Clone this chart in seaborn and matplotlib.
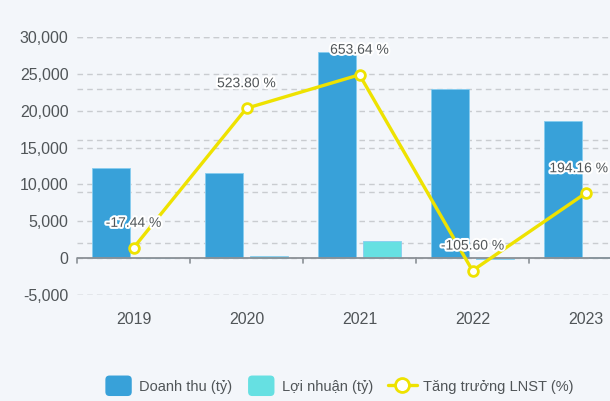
import numpy as np
import pandas as pd
import matplotlib
matplotlib.use("Agg")
import matplotlib.pyplot as plt
import matplotlib.patheffects as pe
from matplotlib.patches import FancyBboxPatch, Patch
from matplotlib.legend_handler import HandlerPatch
from matplotlib.lines import Line2D
from matplotlib.ticker import FuncFormatter
import seaborn as sns

# ── data ────────────────────────────────────────────────────────────
years = ["2019", "2020", "2021", "2022", "2023"]
doanh_thu = [12200, 11500, 28000, 22950, 18600]
loi_nhuan = [50, 310, 2350, -130, 120]
tang_truong = [-17.44, 523.80, 653.64, -105.60, 194.16]

S_REV = "Doanh thu (tỷ)"
S_PROFIT = "Lợi nhuận (tỷ)"
S_GROWTH = "Tăng trưởng LNST (%)"

BG = "#f3f6fa"
BLUE = "#38a1d9"
CYAN = "#66e0e2"
YELLOW = "#eee200"
GRID = "#c9ccd0"
TXT = "#505558"

Y1 = (-5000, 30000)
Y2 = (-200, 800)

sns.set_theme(style="white")
plt.rcParams["font.family"] = ["Liberation Sans Narrow", "Liberation Sans", "DejaVu Sans"]

df = pd.DataFrame({
    "year": years * 2,
    "value": doanh_thu + loi_nhuan,
    "series": [S_REV] * len(years) + [S_PROFIT] * len(years),
})

fig = plt.figure(figsize=(6.10, 4.01), dpi=100, facecolor=BG)
ax = fig.add_axes([77 / 610, 1 - 295 / 401, 565 / 610, 258 / 401])
ax.set_facecolor(BG)

sns.barplot(data=df, x="year", y="value", hue="series", order=years,
            palette=[BLUE, CYAN], saturation=1, gap=0.15, ax=ax,
            legend=False, edgecolor="#86cdf0", linewidth=0.6, zorder=3)

ax.set_ylim(*Y1)
ax.set_xlim(-0.5, len(years) - 0.5)
ax.set_yticks(np.arange(-5000, 30001, 5000))
ax.yaxis.set_major_formatter(FuncFormatter(lambda v, _: f"{int(v):,}"))
ax.grid(axis="y", color=GRID, linestyle=(0, (4, 3)), linewidth=1, zorder=0)
ax.set_axisbelow(True)
# secondary-axis grid, drawn on the primary axes so bars cover it
for g in np.arange(Y2[0], Y2[1] + 1, 200):
    yy = Y1[0] + (g - Y2[0]) / (Y2[1] - Y2[0]) * (Y1[1] - Y1[0])
    ax.axhline(yy, color=GRID, linestyle=(0, (4, 3)), linewidth=1, zorder=0)
for s in ax.spines.values():
    s.set_visible(False)
ax.axhline(0, color="#8a9096", linewidth=1.3, zorder=4)

ax.tick_params(axis="y", length=0, labelsize=11.5, labelcolor=TXT, pad=6)
ax.tick_params(axis="x", which="major", length=0, labelsize=11.5,
               labelcolor=TXT, pad=12)
ax.set_xlabel("")
ax.set_ylabel("")
# category boundary ticks hanging from the zero line
for xb in np.arange(-0.5, len(years), 1.0):
    ax.plot([xb, xb], [0, -650], color="#8a9096", lw=1.2, zorder=4,
            clip_on=False)

# ── secondary axis: growth line ─────────────────────────────────────
ax2 = ax.twinx()
ax2.set_ylim(*Y2)
ax2.set_yticks([])
for s in ax2.spines.values():
    s.set_visible(False)
sns.lineplot(x=np.arange(len(years)), y=tang_truong, ax=ax2, color=YELLOW,
             linewidth=2.4, marker="o", markersize=7,
             markerfacecolor="white", markeredgecolor=YELLOW,
             markeredgewidth=2, zorder=5)
ax2.set_ylabel("")

halo = [pe.withStroke(linewidth=3, foreground="white")]
for i, v in enumerate(tang_truong):
    dx = -5 if i == len(years) - 1 else 0  # keep last label inside figure
    ax2.annotate(f"{v:.2f} %", (i, v), xytext=(dx, 13),
                 textcoords="offset points", ha="center", va="bottom",
                 fontsize=10, color=TXT, path_effects=halo, zorder=6)


# ── legend with rounded swatches ────────────────────────────────────
class RoundHandler(HandlerPatch):
    def create_artists(self, legend, orig, xd, yd, w, h, fs, trans):
        p = FancyBboxPatch((-xd + 1, -yd - 2), w - 2, h + 4,
                           boxstyle="round,pad=0,rounding_size=3",
                           facecolor=orig.get_facecolor(), edgecolor="none",
                           transform=trans)
        return [p]


handles = [
    Patch(facecolor=BLUE, label=S_REV),
    Patch(facecolor=CYAN, label=S_PROFIT),
    Line2D([], [], color=YELLOW, lw=2.4, marker="o", markersize=10,
           markerfacecolor="white", markeredgecolor=YELLOW,
           markeredgewidth=2, label=S_GROWTH),
]
fig.legend(handles=handles, loc="center", ncol=3,
           bbox_to_anchor=(338.5 / 610, 1 - 386 / 401), frameon=False,
           fontsize=10.5, labelcolor=TXT, handlelength=2.0, handleheight=1.2,
           handletextpad=0.4, columnspacing=1.0,
           handler_map={Patch: RoundHandler()})

fig.savefig("out.png", dpi=100, facecolor=BG)
